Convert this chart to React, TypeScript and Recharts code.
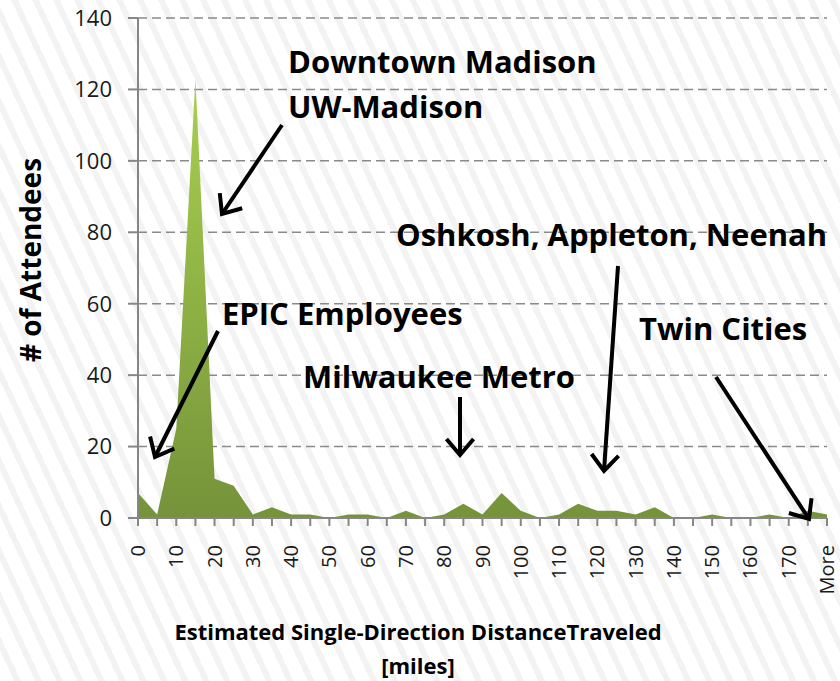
import React from 'react';
import { AreaChart, Area, XAxis, YAxis, CartesianGrid } from 'recharts';

// histogram bins (miles) and number of attendees in each bin
const distanceBins = [
  '0', '5', '10', '15', '20', '25', '30', '35', '40', '45',
  '50', '55', '60', '65', '70', '75', '80', '85', '90', '95',
  '100', '105', '110', '115', '120', '125', '130', '135', '140', '145',
  '150', '155', '160', '165', '170', '175', 'More'
];
const attendeeCounts = [
  7, 1, 25, 123, 11, 9, 1, 3, 1, 1,
  0, 1, 1, 0, 2, 0, 1, 4, 1, 7,
  2, 0, 1, 4, 2, 2, 1, 3, 0, 0,
  1, 0, 0, 1, 0, 2, 1
];
const countTicks = [0, 20, 40, 60, 80, 100, 120, 140];

const chartData = distanceBins.map((bin, i) => ({ bin, attendees: attendeeCounts[i] }));

const AXIS_GREY = '#868686';
const FONT = '"Open Sans", Lato, sans-serif';

// every bin gets a tick mark, only every other one a label
const DistanceTick = (props: any) => {
  const { x, y, payload, index } = props;
  const lx = x + 7;
  const ly = y + 27;
  return (
    <g>
      <line x1={x} y1={y} x2={x} y2={y + 8} stroke={AXIS_GREY} strokeWidth={2} />
      {index % 2 === 0 && (
        <text
          x={lx}
          y={ly}
          transform={`rotate(-90, ${lx}, ${ly})`}
          textAnchor="end"
          fontSize={20}
          fill="#1a1a1a"
          fontFamily={FONT}
        >
          {payload.value}
        </text>
      )}
    </g>
  );
};

// callouts drawn over the chart
const callouts = [
  { text: 'Downtown Madison', x: 288, y: 73 },
  { text: 'UW-Madison', x: 288, y: 118 },
  { text: 'EPIC Employees', x: 222, y: 325 },
  { text: 'Milwaukee Metro', x: 303, y: 388 },
  { text: 'Oshkosh, Appleton, Neenah', x: 396, y: 246 },
  { text: 'Twin Cities', x: 639, y: 340 },
];

const arrows = [
  { from: [282, 125], to: [222, 214] },
  { from: [218, 331], to: [155, 457] },
  { from: [460, 397], to: [460, 455] },
  { from: [618, 266], to: [604, 471] },
  { from: [716, 377], to: [809, 519] },
];

const arrowHead = (from: number[], to: number[]) => {
  const ang = Math.atan2(from[1] - to[1], from[0] - to[0]);
  const len = 21;
  const spread = 0.7;
  const a = [to[0] + len * Math.cos(ang + spread), to[1] + len * Math.sin(ang + spread)];
  const b = [to[0] + len * Math.cos(ang - spread), to[1] + len * Math.sin(ang - spread)];
  return `M${a[0]},${a[1]} L${to[0]},${to[1]} L${b[0]},${b[1]}`;
};

export default function App() {
  return (
    <div
      style={{
        position: 'absolute',
        left: 0,
        top: 0,
        width: 840,
        height: 681,
        fontFamily: FONT,
        background:
          'repeating-linear-gradient(65deg, #ffffff 0px, #ffffff 13px, #f3f3f3 13px, #f3f3f3 19px)',
      }}
    >
      <AreaChart
        width={840}
        height={681}
        data={chartData}
        margin={{ top: 18, right: 13, bottom: 0, left: 0 }}
      >
        <defs>
          <linearGradient id="greenFill" x1="0" y1="0" x2="0" y2="1">
            <stop offset="0%" stopColor="#a8d050" />
            <stop offset="100%" stopColor="#75933a" />
          </linearGradient>
        </defs>
        <CartesianGrid vertical={false} stroke="#8a8a8a" strokeWidth={1.5} strokeDasharray="9 5" />
        <XAxis
          dataKey="bin"
          interval={0}
          height={163}
          tickLine={false}
          tickSize={0}
          tickMargin={0}
          axisLine={{ stroke: AXIS_GREY, strokeWidth: 2 }}
          tick={<DistanceTick />}
        />
        <YAxis
          width={138}
          domain={[0, 140]}
          ticks={countTicks}
          tickSize={10}
          tickMargin={16}
          axisLine={{ stroke: AXIS_GREY, strokeWidth: 2 }}
          tickLine={{ stroke: AXIS_GREY, strokeWidth: 2 }}
          tick={{ fontSize: 22, fill: '#1a1a1a', fontFamily: FONT }}
        />
        <Area
          type="linear"
          dataKey="attendees"
          stroke="none"
          fill="url(#greenFill)"
          fillOpacity={1}
          isAnimationActive={false}
        />
      </AreaChart>

      <svg
        width={840}
        height={681}
        style={{ position: 'absolute', left: 0, top: 0, pointerEvents: 'none' }}
      >
        <text
          x={30}
          y={260}
          transform="rotate(-90, 30, 260)"
          textAnchor="middle"
          dominantBaseline="central"
          fontSize={28}
          fontWeight="bold"
          fontFamily={FONT}
        >
          # of Attendees
        </text>
        <text x={418} y={640} textAnchor="middle" fontSize={22} fontWeight="bold" fontFamily={FONT}>
          Estimated Single-Direction DistanceTraveled
        </text>
        <text x={418} y={674} textAnchor="middle" fontSize={22} fontWeight="bold" fontFamily={FONT}>
          [miles]
        </text>
        {callouts.map((c) => (
          <text key={c.text} x={c.x} y={c.y} fontSize={31} fontWeight="bold" fontFamily={FONT}>
            {c.text}
          </text>
        ))}
        {arrows.map((a, i) => (
          <g key={i} stroke="#000" strokeWidth={4} fill="none">
            <line x1={a.from[0]} y1={a.from[1]} x2={a.to[0]} y2={a.to[1]} />
            <path d={arrowHead(a.from, a.to)} strokeLinejoin="miter" />
          </g>
        ))}
      </svg>
    </div>
  );
}
